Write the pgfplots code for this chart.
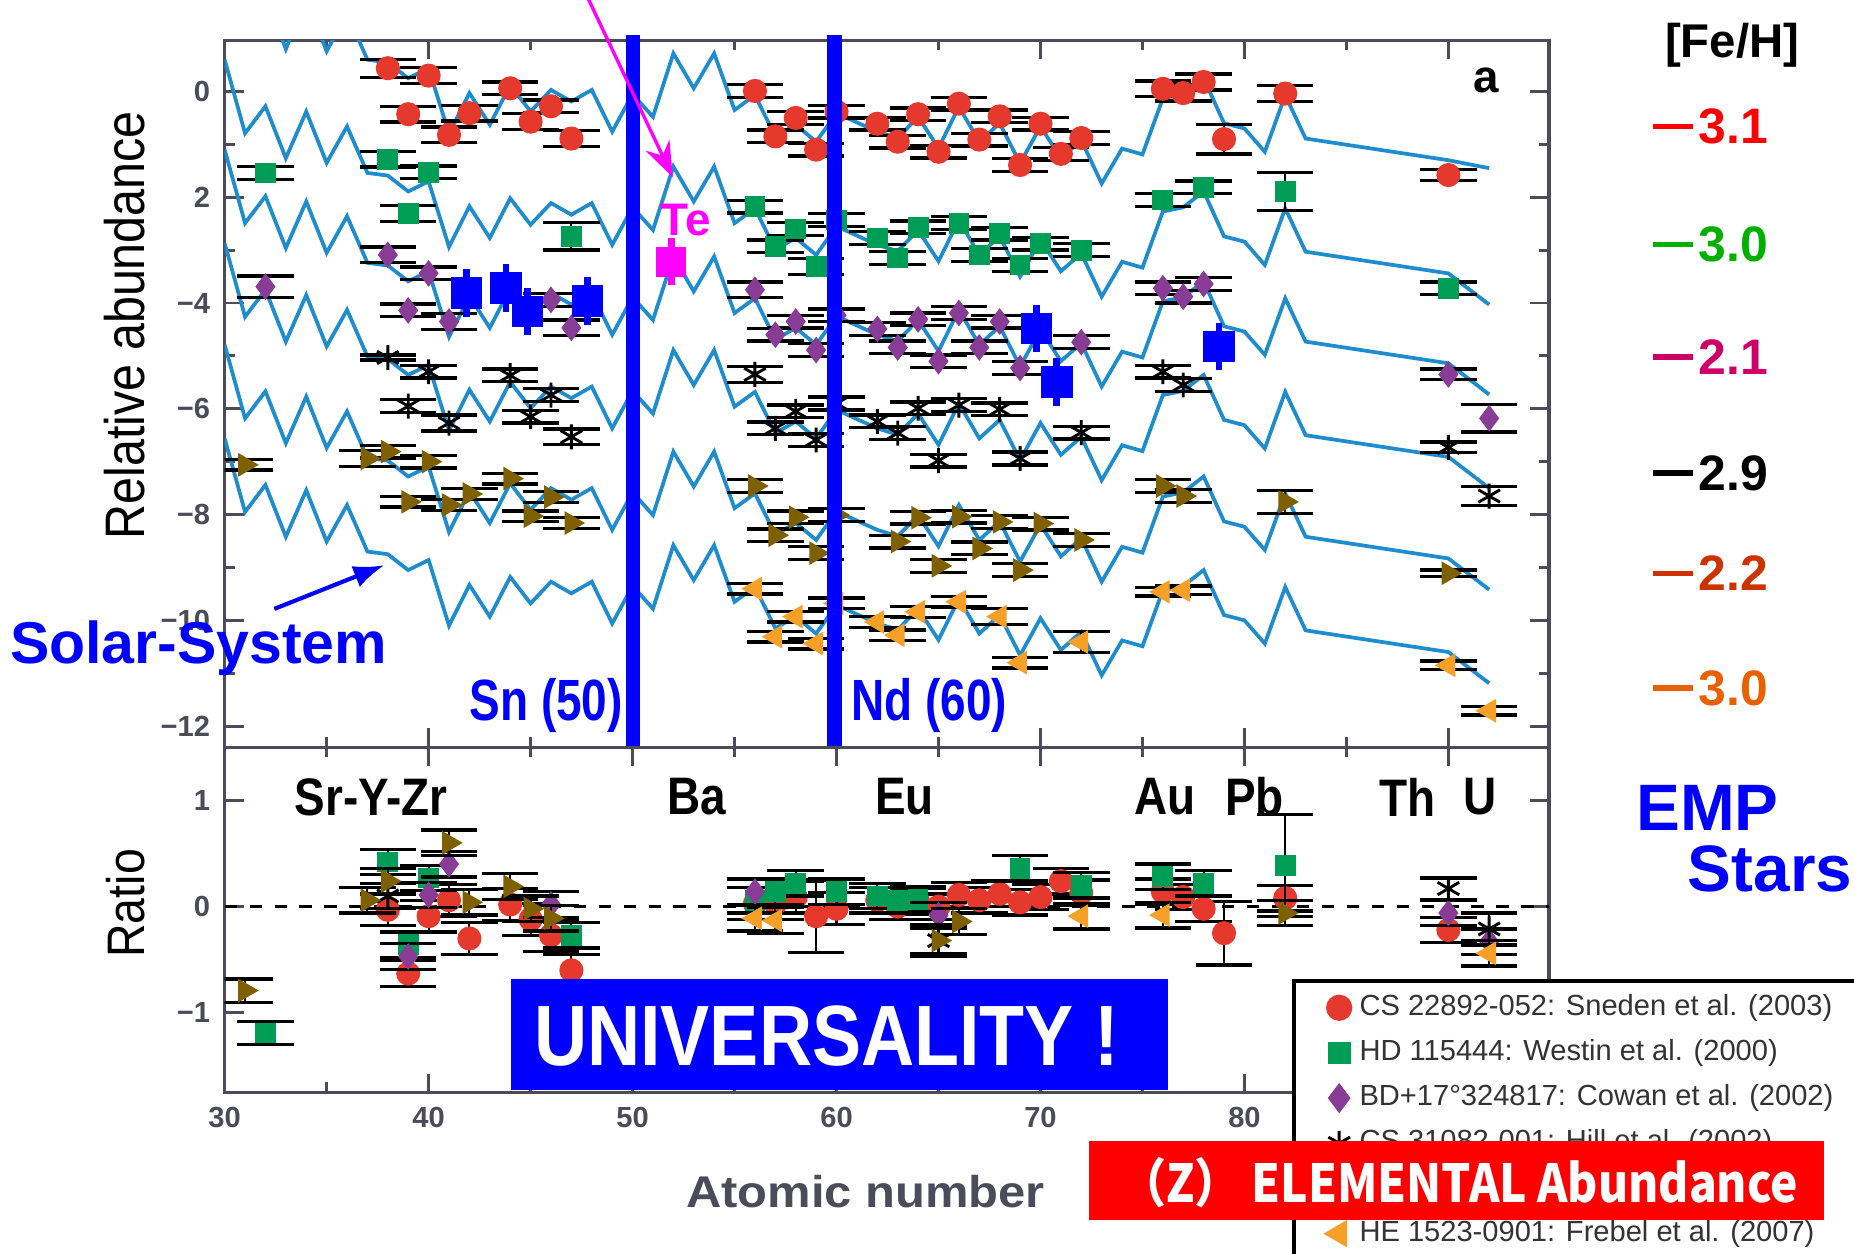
\documentclass[border=0pt]{standalone}
\usepackage{fontspec}
\setmainfont{Liberation Sans}
\newfontfamily\cjk{Noto Sans CJK JP}
\usepackage{graphicx}
\usepackage{pgfplots}
\pgfplotsset{compat=1.18}
\usepackage{pgfplotstable}
\usetikzlibrary{arrows.meta}

\definecolor{cRed}{RGB}{229,57,46}
\definecolor{cGreen}{RGB}{0,157,87}
\definecolor{cPurple}{RGB}{137,60,150}
\definecolor{cBrown}{RGB}{127,96,0}
\definecolor{cOrange}{RGB}{247,160,40}
\definecolor{cCurve}{RGB}{30,140,205}
\definecolor{cTick}{RGB}{75,75,90}
\definecolor{cMag}{RGB}{255,0,255}
\definecolor{lRed}{RGB}{255,0,0}
\definecolor{lGreen}{RGB}{0,176,0}
\definecolor{lMag}{RGB}{204,0,102}
\definecolor{lOrR}{RGB}{204,51,0}
\definecolor{lOr}{RGB}{232,96,0}

% solar r-process curves, one column per star (vertically displaced)
\pgfplotstableread{
Z r g p k b o
30 2.74 0.60 -1.10 -2.87 -4.79 -6.56
31 1.35 -0.79 -2.49 -4.26 -6.18 -7.95
32 1.86 -0.28 -1.98 -3.75 -5.67 -7.44
33 0.80 -1.26 -2.96 -4.73 -6.65 -8.42
34 1.76 -0.38 -2.08 -3.85 -5.77 -7.54
35 0.76 -1.35 -3.05 -4.82 -6.74 -8.51
36 1.48 -0.66 -2.36 -4.13 -6.05 -7.82
37 0.60 -1.54 -3.24 -5.01 -6.93 -8.70
38 0.55 -1.59 -3.29 -5.06 -6.98 -8.75
39 0.25 -1.89 -3.59 -5.36 -7.28 -9.05
40 0.44 -1.70 -3.40 -5.17 -7.09 -8.86
41 -0.80 -2.94 -4.64 -6.41 -8.33 -10.10
42 -0.03 -2.17 -3.87 -5.64 -7.56 -9.33
43 -0.63 -2.77 -4.47 -6.24 -8.16 -9.93
44 0.12 -2.02 -3.72 -5.49 -7.41 -9.18
45 -0.38 -2.52 -4.22 -5.99 -7.91 -9.68
46 0.03 -2.11 -3.81 -5.58 -7.50 -9.27
47 -0.19 -2.33 -4.03 -5.80 -7.72 -9.49
48 0.03 -2.11 -3.81 -5.58 -7.50 -9.27
49 -0.76 -2.90 -4.60 -6.37 -8.29 -10.06
50 -0.05 -2.19 -3.89 -5.66 -7.58 -9.35
51 -0.48 -2.62 -4.32 -6.09 -8.01 -9.78
52 0.72 -1.42 -3.12 -4.89 -6.81 -8.58
53 0.06 -2.08 -3.78 -5.55 -7.47 -9.24
54 0.72 -1.42 -3.12 -4.89 -6.81 -8.58
55 -0.35 -2.49 -4.19 -5.96 -7.88 -9.65
56 -0.07 -2.21 -3.91 -5.68 -7.60 -9.37
57 -0.85 -2.99 -4.69 -6.46 -8.38 -10.15
58 -0.63 -2.77 -4.47 -6.24 -8.16 -9.93
59 -0.95 -3.09 -4.79 -6.56 -8.48 -10.25
60 -0.41 -2.55 -4.25 -6.02 -7.94 -9.71
62 -0.76 -2.90 -4.60 -6.37 -8.29 -10.06
63 -0.88 -3.02 -4.72 -6.49 -8.41 -10.18
64 -0.48 -2.62 -4.32 -6.09 -8.01 -9.78
65 -1.07 -3.21 -4.91 -6.68 -8.60 -10.37
66 -0.29 -2.43 -4.13 -5.90 -7.82 -9.59
67 -0.95 -3.09 -4.79 -6.56 -8.48 -10.25
68 -0.60 -2.74 -4.44 -6.21 -8.13 -9.90
69 -1.36 -3.50 -5.20 -6.97 -8.89 -10.66
70 -0.66 -2.80 -4.50 -6.27 -8.19 -9.96
71 -1.26 -3.40 -5.10 -6.87 -8.79 -10.56
72 -0.92 -3.06 -4.76 -6.53 -8.45 -10.22
73 -1.74 -3.88 -5.58 -7.35 -9.27 -11.04
74 -1.08 -3.22 -4.92 -6.69 -8.61 -10.38
75 -1.19 -3.33 -5.03 -6.80 -8.72 -10.49
76 -0.13 -2.27 -3.97 -5.74 -7.66 -9.43
77 -0.05 -2.19 -3.89 -5.66 -7.58 -9.35
78 0.25 -1.89 -3.59 -5.36 -7.28 -9.05
79 -0.60 -2.74 -4.44 -6.21 -8.13 -9.90
80 -0.70 -2.84 -4.54 -6.31 -8.23 -10.00
81 -1.14 -3.28 -4.98 -6.75 -8.67 -10.44
82 -0.07 -2.21 -3.91 -5.68 -7.60 -9.37
83 -0.89 -3.03 -4.73 -6.50 -8.42 -10.19
90 -1.30 -3.44 -5.14 -6.91 -8.83 -10.60
92 -1.45 -4.03 -5.73 -7.50 -9.42 -11.19
}\curves

\pgfplotsset{
  common/.style={
    scale only axis, width=11.2cm, xmin=30, xmax=94.93,
    axis line style={cTick, line width=0.8pt},
    tick style={cTick, line width=0.7pt},
    tick align=inside, major tick length=0.16cm, minor tick length=0.085cm,
    xtick={30,40,...,90}, minor xtick={35,45,...,95},
    ticklabel style={font=\bfseries\fontsize{7}{8}\selectfont, text=cTick},
    clip mode=individual,
  },
  errs/.style={error bars/.cd, y dir=both, y explicit, error mark=|,
    error bar style={black, line width=0.5pt},
    error mark options={black, line width=0.8pt, mark size=6.8pt}},
  sRed/.style={only marks, mark=*, mark size=2.7pt, color=cRed, errs},
  sGreen/.style={only marks, mark=square*, mark size=2.3pt, color=cGreen, errs},
  sPurple/.style={only marks, mark=diamond*, mark size=2.9pt, color=cPurple, errs},
  sBlack/.style={only marks, mark=asterisk, mark size=3pt, color=black, mark options={line width=0.7pt}, errs},
  sBrown/.style={only marks, mark=triangle*, mark size=2.9pt, color=cBrown, mark options={rotate=-90}, errs},
  sOrange/.style={only marks, mark=triangle*, mark size=2.9pt, color=cOrange, mark options={rotate=90}, errs},
}

\begin{document}
\begin{tikzpicture}
\useasboundingbox (0,0) rectangle (15.68,10.60);

% ---------------- top panel ----------------
\begin{axis}[common, at={(1.90cm,10.26cm)}, anchor=north west, height=5.98cm,
  ymin=-12.40, ymax=0.97, ytick={-12,-10,...,0}, minor ytick={-11,-9,...,-1},
  yticklabels={−12,−10,−8,−6,−4,2,0}, xticklabels={}]
\foreach \c in {r,g,p,k,b,o}{
  \addplot[cCurve, line width=0.9pt, forget plot] table[x=Z, y=\c] {\curves};
}
\addplot[sRed] table[x=Z, y=v, y error=e] {
Z v e
38 0.44 0.17
39 -0.43 0.15
40 0.30 0.15
41 -0.82 0.15
42 -0.41 0.15
44 0.06 0.12
45 -0.57 0.15
46 -0.28 0.12
47 -0.89 0.15
56 0.01 0.12
57 -0.85 0.12
58 -0.50 0.12
59 -1.10 0.12
60 -0.38 0.12
62 -0.61 0.12
63 -0.95 0.12
64 -0.43 0.12
65 -1.14 0.12
66 -0.23 0.12
67 -0.91 0.12
68 -0.47 0.12
69 -1.39 0.12
70 -0.61 0.12
71 -1.18 0.12
72 -0.88 0.12
76 0.05 0.15
77 -0.03 0.15
78 0.18 0.15
79 -0.90 0.28
82 -0.04 0.15
90 -1.58 0.10
};
\addplot[sGreen] table[x=Z, y=v, y error=e] {
Z v e
32 -1.54 0.12
38 -1.28 0.15
39 -2.31 0.15
40 -1.53 0.12
47 -2.74 0.26
56 -2.18 0.12
57 -2.93 0.12
58 -2.60 0.12
59 -3.31 0.15
60 -2.43 0.12
62 -2.77 0.12
63 -3.15 0.12
64 -2.57 0.12
66 -2.49 0.12
67 -3.09 0.12
68 -2.69 0.12
69 -3.28 0.12
70 -2.88 0.12
72 -3.00 0.12
76 -2.05 0.12
78 -1.81 0.12
82 -1.89 0.36
90 -3.72 0.12
};
\addplot[sPurple] table[x=Z, y=v, y error=e] {
Z v e
32 -3.69 0.20
38 -3.09 0.15
39 -4.14 0.12
40 -3.44 0.12
41 -4.35 0.15
46 -3.94 0.12
47 -4.47 0.15
56 -3.75 0.15
57 -4.60 0.12
58 -4.35 0.12
59 -4.89 0.12
60 -4.23 0.12
62 -4.49 0.12
63 -4.84 0.12
64 -4.31 0.12
65 -5.10 0.12
66 -4.19 0.12
67 -4.84 0.12
68 -4.35 0.12
69 -5.23 0.12
72 -4.74 0.12
76 -3.72 0.12
77 -3.88 0.12
78 -3.64 0.12
90 -5.35 0.10
92 -6.18 0.26
};
\addplot[sBlack] table[x=Z, y=v, y error=e] {
Z v e
38 -5.03 0.05
39 -5.95 0.12
40 -5.30 0.12
41 -6.27 0.15
44 -5.37 0.12
45 -6.15 0.12
46 -5.74 0.12
47 -6.53 0.15
56 -5.35 0.15
57 -6.37 0.12
58 -6.05 0.12
59 -6.59 0.12
60 -5.90 0.12
62 -6.24 0.12
63 -6.46 0.12
64 -5.99 0.12
65 -6.98 0.12
66 -5.93 0.12
68 -6.01 0.12
69 -6.94 0.12
72 -6.45 0.12
76 -5.30 0.12
77 -5.55 0.12
90 -6.73 0.10
92 -7.65 0.18
};
\addplot[sBrown] table[x=Z, y=v, y error=e] {
Z v e
31 -7.06 0.10
37 -6.94 0.15
38 -6.81 0.12
39 -7.76 0.10
40 -7.00 0.12
41 -7.82 0.10
42 -7.61 0.10
44 -7.32 0.10
45 -8.03 0.10
46 -7.67 0.10
47 -8.16 0.10
56 -7.46 0.12
57 -8.39 0.12
58 -8.05 0.12
59 -8.73 0.12
60 -8.01 0.12
63 -8.51 0.12
64 -8.06 0.12
65 -8.97 0.12
66 -8.04 0.12
67 -8.64 0.12
68 -8.14 0.12
69 -9.05 0.12
70 -8.17 0.12
72 -8.48 0.12
76 -7.46 0.12
77 -7.65 0.12
82 -7.76 0.22
90 -9.11 0.06
};
\addplot[sOrange] table[x=Z, y=v, y error=e] {
Z v e
56 -9.40 0.10
57 -10.31 0.10
58 -9.93 0.10
59 -10.44 0.10
60 -9.68 0.10
62 -10.03 0.10
63 -10.28 0.10
64 -9.84 0.10
66 -9.65 0.10
68 -9.93 0.15
69 -10.80 0.10
72 -10.41 0.20
76 -9.46 0.08
77 -9.43 0.08
90 -10.85 0.08
92 -11.71 0.08
};
% additional measurements (blue) and Te (magenta)
\addplot[only marks, mark=square*, mark size=3.6pt, color=blue,
  error bars/.cd, y dir=both, y explicit, error mark=none,
  error bar style={blue, line width=1.6pt}] table[x=Z, y=v, y error=e] {
Z v e
41.85 -3.81 0.45
43.8 -3.72 0.45
44.85 -4.16 0.45
47.8 -3.96 0.45
69.8 -4.48 0.45
70.8 -5.49 0.45
78.75 -4.82 0.45
};
\addplot[only marks, mark=square*, mark size=3.4pt, color=cMag,
  error bars/.cd, y dir=both, y explicit, error mark=none,
  error bar style={cMag, line width=1.6pt}] table[x=Z, y=v, y error=e] {
Z v e
51.9 -3.22 0.44
};
\draw[blue, line width=3.4pt] (axis cs:50,1.06) -- (axis cs:50,-12.40);
\draw[blue, line width=3.4pt] (axis cs:59.9,1.06) -- (axis cs:59.9,-12.40);
\end{axis}

% ---------------- bottom panel ----------------
\begin{axis}[common, at={(1.90cm,4.28cm)}, anchor=north west, height=2.92cm,
  ymin=-1.75, ymax=1.5, ytick={-1,0,1}, yticklabels={−1,0,1},
  xticklabels={30,40,50,60,70,80,90},
  legend cell align=left,
  legend style={at={(0.806,0.329)}, anchor=north west, draw=black, line width=0.9pt,
    fill=white, font=\fontsize{7}{8}\selectfont, text=black!80,
    row sep=0.3pt, inner xsep=8pt, inner ysep=1.2pt}]
\addplot[black, dashed, line width=0.6pt, forget plot] coordinates {(30,0) (95,0)};
\addplot[sRed] table[x=Z, y=v, y error=e] {
Z v e
38 -0.03 0.15
39 -0.63 0.12
40 -0.09 0.15
41 0.06 0.15
42 -0.30 0.15
44 0.02 0.15
45 -0.12 0.15
46 -0.27 0.15
47 -0.60 0.15
56 0.03 0.15
57 0.03 0.15
58 0.09 0.15
59 -0.09 0.34
60 -0.02 0.15
62 0.06 0.12
63 0.00 0.12
64 0.05 0.12
65 0.00 0.12
66 0.11 0.12
67 0.06 0.12
68 0.12 0.12
69 0.04 0.12
70 0.09 0.12
71 0.24 0.12
72 0.13 0.12
76 0.14 0.12
77 0.09 0.12
78 -0.02 0.12
79 -0.25 0.30
82 0.08 0.12
90 -0.22 0.12
};
\addlegendentry{CS 22892-052: Sneden et al. (2003)}
\addplot[sGreen] table[x=Z, y=v, y error=e] {
Z v e
32 -1.19 0.11
38 0.42 0.12
39 -0.36 0.12
40 0.27 0.12
47 -0.27 0.12
56 0.06 0.12
57 0.14 0.12
58 0.22 0.12
60 0.14 0.12
62 0.10 0.12
63 0.06 0.12
64 0.07 0.12
69 0.36 0.12
72 0.20 0.12
76 0.28 0.12
78 0.22 0.12
82 0.39 0.48
};
\addlegendentry{HD 115444: Westin et al. (2000)}
\addplot[sPurple] table[x=Z, y=v, y error=e] {
Z v e
39 -0.47 0.12
40 0.11 0.12
41 0.40 0.12
46 0.02 0.12
56 0.14 0.12
65 -0.08 0.12
90 -0.06 0.12
92 -0.33 0.12
};
\addlegendentry{BD+17°324817: Cowan et al. (2002)}
\addplot[sBlack] table[x=Z, y=v, y error=e] {
Z v e
38 0.10 0.12
65 -0.32 0.12
90 0.17 0.10
92 -0.21 0.15
};
\addlegendentry{CS 31082-001: Hill et al. (2002)}
\addplot[sBrown] table[x=Z, y=v, y error=e] {
Z v e
31 -0.79 0.11
37 0.06 0.12
38 0.24 0.12
41 0.60 0.12
42 0.04 0.12
44 0.19 0.12
45 -0.02 0.12
46 -0.11 0.12
65 -0.32 0.15
66 -0.14 0.12
82 -0.06 0.12
};
\addlegendentry{HD 221170: Ivans et al. (2006)}
\addplot[sOrange] table[x=Z, y=v, y error=e] {
Z v e
56 -0.11 0.12
57 -0.13 0.12
72 -0.09 0.12
76 -0.08 0.12
92 -0.44 0.12
};
\addlegendentry{HE 1523-0901: Frebel et al. (2007)}
\end{axis}

% ---------------- annotations ----------------
\node[rotate=90] at (1.05,7.85) {\fontsize{13.4}{14}\selectfont\scalebox{0.87}[1]{Relative abundance}};
\node[rotate=90] at (1.06,2.96) {\fontsize{12.7}{14}\selectfont\scalebox{0.88}[1]{Ratio}};
\node[text=cTick] at (7.32,0.52) {\bfseries\fontsize{10.7}{12}\selectfont\scalebox{1.1}[1]{Atomic number}};

\node[text=blue] at (1.68,5.12) {\bfseries\fontsize{14.2}{16}\selectfont Solar-System};
\draw[blue, line width=1pt, -{Latex[length=2.6mm,width=1.9mm]}] (2.32,5.45) -- (3.25,5.82);
\node[text=blue] at (4.62,4.63) {\bfseries\fontsize{14}{16}\selectfont\scalebox{0.79}[1]{Sn (50)}};
\node[text=blue] at (7.86,4.63) {\bfseries\fontsize{14}{16}\selectfont\scalebox{0.79}[1]{Nd (60)}};
\node[text=cMag] at (5.80,8.74) {\bfseries\fontsize{11}{12}\selectfont Te};
\draw[cMag, line width=0.8pt, -{Stealth[length=3mm,width=2.2mm]}] (4.97,10.62) -- (5.69,9.10);
\node at (12.57,9.92) {\bfseries\fontsize{11}{12}\selectfont a};

\foreach \x/\t in {3.14/Sr-Y-Zr, 5.89/Ba, 7.65/Eu, 9.85/Au, 10.61/Pb, 11.90/Th, 12.52/U}{
  \node at (\x,3.86) {\bfseries\fontsize{12.7}{14}\selectfont\scalebox{0.87}[1]{\t}};
}

% right column
\node at (14.65,10.22) {\bfseries\fontsize{11.4}{12}\selectfont [Fe/H]};
\foreach \yy/\v/\col in {9.53/3.1/lRed, 8.53/3.0/lGreen, 7.58/2.1/lMag, 6.60/2.9/black, 5.75/2.2/lOrR, 4.78/3.0/lOr}{
  \draw[\col, line width=1.3pt] (13.98,\yy) -- (14.32,\yy);
  \node[text=\col, anchor=west, inner sep=0pt] at (14.36,\yy) {\bfseries\fontsize{12}{12}\selectfont \v};
}
\node[text=blue] at (14.44,3.77) {\bfseries\fontsize{15.8}{16}\selectfont EMP};
\node[text=blue] at (14.97,3.25) {\bfseries\fontsize{15.8}{16}\selectfont Stars};

% overlay boxes
\fill[blue] (4.32,1.38) rectangle (9.88,2.32);
\node[text=white] at (6.99,1.84) {\bfseries\fontsize{20.6}{22}\selectfont\scalebox{0.86}[1]{UNIVERSALITY !}};
\fill[red] (9.21,0.28) rectangle (15.43,0.95);
\node[text=white] at (12.34,0.60) {\cjk\bfseries\fontsize{12.6}{14}\selectfont\scalebox{0.88}[1]{（Z） ELEMENTAL Abundance}};
\end{tikzpicture}
\end{document}
